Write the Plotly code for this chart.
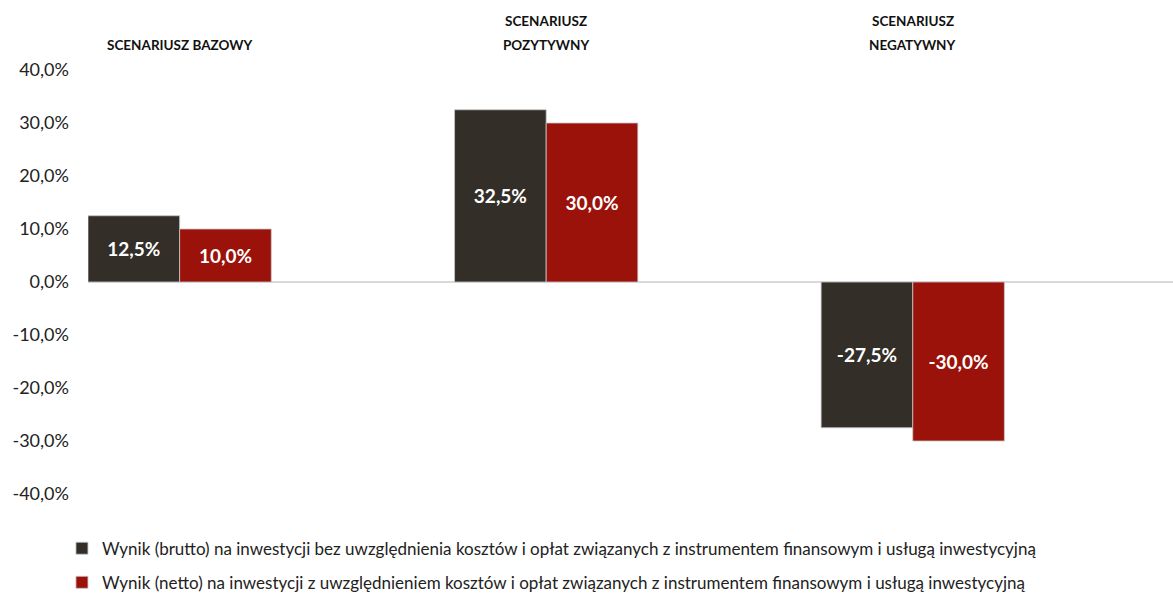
import plotly.graph_objects as go

scenarios = ["SCENARIUSZ BAZOWY", "SCENARIUSZ<br>POZYTYWNY", "SCENARIUSZ<br>NEGATYWNY"]
brutto = [0.125, 0.325, -0.275]
netto = [0.10, 0.30, -0.30]
series_names = [
    "Wynik (brutto) na inwestycji bez uwzględnienia kosztów i opłat związanych z instrumentem finansowym i usługą inwestycyjną",
    "Wynik (netto) na inwestycji z uwzględnieniem kosztów i opłat związanych z instrumentem finansowym i usługą inwestycyjną",
]
y_ticks = [0.4, 0.3, 0.2, 0.1, 0.0, -0.1, -0.2, -0.3, -0.4]

COLORS = ["#332e28", "#9a1209"]
FONT = "Lato, 'Open Sans', sans-serif"

x_idx = list(range(len(scenarios)))
# Excel-style labels with a plain hyphen and decimal comma
y_ticktext = [f"{v * 100:.1f}%".replace(".", ",") for v in y_ticks]

fig = go.Figure()
for vals, name, color in zip([brutto, netto], series_names, COLORS):
    fig.add_trace(go.Bar(
        x=x_idx,
        y=vals,
        name=name,
        legendgroup=name,
        marker=dict(color=color, line=dict(color="rgba(200,200,200,0.8)", width=1)),
        texttemplate="%{y:.1%}",
        textposition="inside",
        insidetextanchor="middle",
        textangle=0,
        textfont=dict(family=FONT, size=19, color="white", weight="bold"),
        hovertemplate="%{y:.1%}<extra></extra>",
    ))

# category headers above the plot, one annotation per line (Excel-like line spacing)
for i, label in enumerate(scenarios):
    lines = label.split("<br>")
    for k, line in enumerate(reversed(lines)):
        fig.add_annotation(
            x=i, y=1, xref="x", yref="paper",
            text=f"<b>{line}</b>", showarrow=False,
            yanchor="middle", xanchor="center",
            yshift=25 + 24 * k,
            font=dict(family=FONT, size=13.5, color="#111111"),
        )

fig.update_layout(
    width=1173,
    height=594,
    paper_bgcolor="white",
    plot_bgcolor="white",
    separators=", ",
    barmode="group",
    bargap=0.5,
    bargroupgap=0,
    margin=dict(l=88, r=0, t=70, b=100, autoexpand=False),
    font=dict(family=FONT, color="#222222"),
    xaxis=dict(
        range=[-0.25, 2.71],
        showticklabels=False,
        showgrid=False,
        zeroline=False,
        showline=False,
        fixedrange=True,
    ),
    yaxis=dict(
        range=[-0.4, 0.4],
        tickvals=y_ticks,
        ticktext=y_ticktext,
        tickfont=dict(family=FONT, size=18, color="#222222"),
        ticklabelstandoff=18,
        showgrid=False,
        zeroline=True,
        zerolinecolor="#d9d9d9",
        zerolinewidth=2,
        showline=False,
    ),
    legend=dict(
        x=-0.024, y=-0.0865, xanchor="left", yanchor="top",
        orientation="v",
        font=dict(family=FONT, size=17, color="#222222"),
        tracegroupgap=9,
        itemwidth=30,
    ),
    showlegend=True,
)

fig.write_html(
    "out.html",
    config={"displayModeBar": False},
    post_script="document.body.style.margin='0';",
)
